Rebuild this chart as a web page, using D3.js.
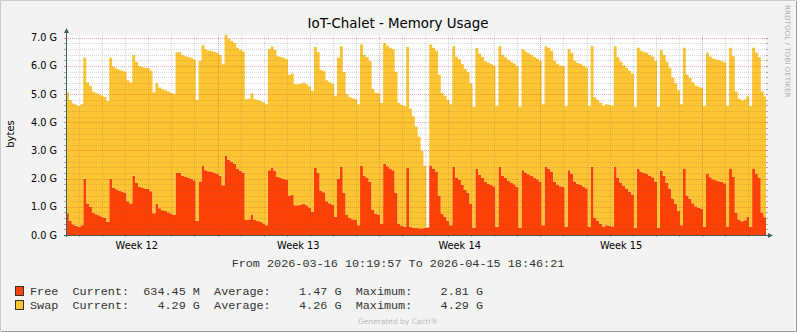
<!DOCTYPE html>
<html>
<head>
<meta charset="utf-8">
<script src="https://cdn.jsdelivr.net/npm/d3@7"></script>
<style>
html, body { margin: 0; padding: 0; background: #f3f3f3; }
svg { display: block; }
</style>
</head>
<body>
<div id="chart"></div>
<script>
var width = 797, height = 332;
var plot = {left: 66, right: 766, top: 35, bottom: 235};

var title = "IoT-Chalet - Memory Usage";
var yLabel = "bytes";
var startTime = new Date("2026-03-16T10:19:57Z");
var endTime = new Date("2026-04-15T18:46:21Z");
var stepHours = 3;

// free memory, G (one value every 3 hours)
var free = [
  0.77, 0.50, 0.38, 0.33, 0.29, 0.35, 2.00, 1.12, 1.00, 0.80,
  0.74, 0.70, 0.66, 0.61, 0.47, 2.00, 1.68, 1.62, 1.58, 1.54,
  1.51, 1.20, 1.12, 2.10, 1.85, 1.70, 1.67, 1.65, 1.63, 1.55,
  0.77, 1.10, 0.95, 0.88, 0.85, 0.81, 0.76, 0.72, 2.20, 2.20,
  2.10, 2.06, 2.03, 2.00, 1.94, 0.50, 1.90, 2.45, 2.30, 2.26,
  2.24, 2.21, 2.18, 2.10, 1.77, 2.81, 2.67, 2.60, 2.53, 2.36,
  2.28, 2.22, 0.53, 0.55, 0.73, 0.53, 0.50, 0.47, 0.42, 0.35,
  2.30, 2.40, 2.28, 2.06, 2.03, 2.00, 1.95, 1.40, 1.44, 1.06,
  1.06, 1.08, 1.12, 1.06, 0.98, 0.82, 2.38, 2.20, 1.57, 1.52,
  1.20, 1.13, 1.08, 0.65, 2.00, 2.41, 1.50, 0.71, 0.60, 0.56,
  0.53, 0.35, 2.47, 2.10, 2.02, 1.88, 0.90, 0.76, 0.73, 0.40,
  2.53, 2.44, 2.36, 2.30, 1.50, 0.40, 0.33, 0.29, 2.38, 0.29,
  0.26, 0.25, 0.24, 0.24, 0.26, 0.27, 2.47, 2.36, 2.25, 1.40,
  0.75, 0.65, 0.50, 0.35, 2.41, 2.04, 1.95, 1.78, 1.60, 1.50,
  1.10, 0.26, 2.35, 2.14, 2.03, 1.88, 1.83, 1.78, 1.73, 0.29,
  2.41, 2.10, 2.02, 1.93, 1.86, 1.80, 1.70, 0.26, 2.30, 2.22,
  2.16, 2.10, 2.03, 1.98, 1.90, 0.35, 2.41, 2.35, 2.24, 1.90,
  1.79, 1.73, 1.71, 0.29, 2.30, 2.17, 1.90, 1.82, 1.78, 1.72,
  1.66, 0.29, 2.41, 0.60, 0.50, 0.40, 0.30, 0.35, 0.33, 0.30,
  2.41, 2.02, 1.86, 1.74, 1.65, 1.54, 1.44, 0.26, 2.36, 2.25,
  2.20, 2.18, 2.10, 2.05, 1.90, 0.26, 2.28, 2.10, 1.85, 1.65,
  1.30, 1.10, 0.85, 0.35, 2.36, 1.40, 1.28, 1.13, 1.02, 0.97,
  0.94, 0.29, 2.18, 2.05, 1.98, 1.94, 1.91, 1.88, 1.84, 0.30,
  2.36, 2.06, 0.80, 0.55, 0.49, 0.52, 0.64, 0.29, 2.36, 2.18,
  2.02, 0.80, 0.63
];

// swap, G (stacked on free)
var swap = [
  4.29, 4.29, 4.29, 4.29, 4.29, 4.29, 4.29, 4.29, 4.29, 4.29,
  4.29, 4.29, 4.29, 4.29, 4.29, 4.29, 4.29, 4.29, 4.29, 4.29,
  4.29, 4.29, 4.29, 4.29, 4.29, 4.29, 4.29, 4.29, 4.29, 4.29,
  4.29, 4.29, 4.29, 4.29, 4.29, 4.29, 4.29, 4.29, 4.29, 4.29,
  4.29, 4.29, 4.29, 4.29, 4.29, 4.29, 4.29, 4.29, 4.29, 4.29,
  4.29, 4.29, 4.29, 4.29, 4.29, 4.29, 4.29, 4.29, 4.29, 4.29,
  4.29, 4.29, 4.29, 4.29, 4.29, 4.29, 4.29, 4.29, 4.29, 4.29,
  4.29, 4.29, 4.29, 4.29, 4.29, 4.29, 4.29, 4.29, 4.29, 4.29,
  4.29, 4.29, 4.29, 4.29, 4.29, 4.29, 4.29, 4.29, 4.29, 4.29,
  4.29, 4.29, 4.29, 4.29, 4.29, 4.29, 4.29, 4.29, 4.29, 4.29,
  4.29, 4.29, 4.29, 4.29, 4.29, 4.29, 4.29, 4.29, 4.29, 4.29,
  4.29, 4.29, 4.29, 4.29, 4.29, 4.29, 4.29, 4.29, 4.29, 4.19,
  3.95, 3.60, 3.25, 2.75, 2.20, 0.00, 4.29, 4.29, 4.29, 4.29,
  4.29, 4.29, 4.29, 4.29, 4.29, 4.29, 4.29, 4.29, 4.29, 4.29,
  4.29, 4.29, 4.29, 4.29, 4.29, 4.29, 4.29, 4.29, 4.29, 4.29,
  4.29, 4.29, 4.29, 4.29, 4.29, 4.29, 4.29, 4.29, 4.29, 4.29,
  4.29, 4.29, 4.29, 4.29, 4.29, 4.29, 4.29, 4.29, 4.29, 4.29,
  4.29, 4.29, 4.29, 4.29, 4.29, 4.29, 4.29, 4.29, 4.29, 4.29,
  4.29, 4.29, 4.29, 4.29, 4.29, 4.29, 4.29, 4.29, 4.29, 4.29,
  4.29, 4.29, 4.29, 4.29, 4.29, 4.29, 4.29, 4.29, 4.29, 4.29,
  4.29, 4.29, 4.29, 4.29, 4.29, 4.29, 4.29, 4.29, 4.29, 4.29,
  4.29, 4.29, 4.29, 4.29, 4.29, 4.29, 4.29, 4.29, 4.29, 4.29,
  4.29, 4.29, 4.29, 4.29, 4.29, 4.29, 4.29, 4.29, 4.29, 4.29,
  4.29, 4.29, 4.29, 4.29, 4.29, 4.29, 4.29, 4.29, 4.29, 4.29,
  4.29, 4.29, 4.29
];

var yTicks = [0, 1, 2, 3, 4, 5, 6, 7];
var seriesNames = ["Free", "Swap"];
var seriesKeys = ["free", "swap"];
var currentVals = ["634.45 M", "4.29 G"];
var averageVals = ["1.47 G", "4.26 G"];
var maximumVals = ["2.81 G", "4.29 G"];

var colors = {free: "#FF4105", swap: "#FFC432"};

var svg = d3.select("#chart").append("svg")
    .attr("width", width).attr("height", height);

// background + 3d frame
svg.append("rect").attr("width", width).attr("height", height).attr("fill", "#f3f3f3");
svg.append("path").attr("d", "M0.5," + (height-1) + "V0.5H" + (width-1))
    .attr("fill", "none").attr("stroke", "#cbcbcb").attr("stroke-width", 1);
svg.append("path").attr("d", "M1," + (height-0.5) + "H" + (width-0.5) + "V1")
    .attr("fill", "none").attr("stroke", "#999999").attr("stroke-width", 1);

var x = d3.scaleUtc().domain([startTime, endTime]).range([plot.left, plot.right]);
var y = d3.scaleLinear().domain([0, 7.1]).range([plot.bottom, plot.top]);

svg.append("rect")
    .attr("x", plot.left).attr("y", plot.top)
    .attr("width", plot.right - plot.left).attr("height", plot.bottom - plot.top)
    .attr("fill", "#ffffff");

// data
var rows = free.map(function(d, i) {
  return {t: d3.utcHour.offset(startTime, i * stepHours), free: free[i], swap: swap[i]};
});
rows.push({t: endTime, free: free[free.length-1], swap: swap[swap.length-1]});

var layers = d3.stack().keys(seriesKeys)(rows);

var area = d3.area()
    .curve(d3.curveStepAfter)
    .x(function(d) { return x(d.data.t); })
    .y0(function(d) { return y(d[0]); })
    .y1(function(d) { return y(d[1]); });

svg.append("g").selectAll("path").data(layers).enter().append("path")
    .attr("d", area)
    .attr("fill", function(d) { return colors[d.key]; });

// grid, drawn over the areas like rrdtool
var grid = svg.append("g").attr("shape-rendering", "crispEdges");
var minorY = d3.range(1, 36).filter(function(k) { return k % 5 != 0; }).map(function(k) { return k * 0.2; });
var days = d3.utcDay.range(startTime, endTime);
var mondays = d3.utcMonday.range(startTime, endTime);
var isMonday = function(d) { return d.getUTCDay() == 1; };
var minorColor = "rgba(90,90,90,0.22)";
var majorColor = "rgba(220,60,60,0.4)";

grid.selectAll("line.minory").data(minorY).enter().append("line")
    .attr("x1", plot.left).attr("x2", plot.right)
    .attr("y1", function(d) { return Math.round(y(d)) + 0.5; })
    .attr("y2", function(d) { return Math.round(y(d)) + 0.5; })
    .attr("stroke", minorColor).attr("stroke-dasharray", "1,1");

grid.selectAll("line.minorx").data(days.filter(function(d) { return !isMonday(d); })).enter().append("line")
    .attr("x1", function(d) { return Math.round(x(d)) + 0.5; })
    .attr("x2", function(d) { return Math.round(x(d)) + 0.5; })
    .attr("y1", plot.top).attr("y2", plot.bottom)
    .attr("stroke", minorColor).attr("stroke-dasharray", "1,1");

grid.selectAll("line.majory").data(yTicks.slice(1)).enter().append("line")
    .attr("x1", plot.left).attr("x2", plot.right)
    .attr("y1", function(d) { return Math.round(y(d)) + 0.5; })
    .attr("y2", function(d) { return Math.round(y(d)) + 0.5; })
    .attr("stroke", majorColor).attr("stroke-dasharray", "1,1");

grid.selectAll("line.majorx").data(mondays).enter().append("line")
    .attr("x1", function(d) { return Math.round(x(d)) + 0.5; })
    .attr("x2", function(d) { return Math.round(x(d)) + 0.5; })
    .attr("y1", plot.top).attr("y2", plot.bottom)
    .attr("stroke", majorColor).attr("stroke-dasharray", "1,1");

// ticks
var ticks = svg.append("g").attr("shape-rendering", "crispEdges");
minorY.forEach(function(v) {
  var yy = Math.round(y(v)) + 0.5;
  ticks.append("line").attr("x1", plot.left - 2).attr("x2", plot.left).attr("y1", yy).attr("y2", yy).attr("stroke", "#aaaaaa");
  ticks.append("line").attr("x1", plot.right).attr("x2", plot.right + 2).attr("y1", yy).attr("y2", yy).attr("stroke", "#aaaaaa");
});
yTicks.forEach(function(v) {
  var yy = Math.round(y(v)) + 0.5;
  ticks.append("line").attr("x1", plot.left - 2).attr("x2", plot.left).attr("y1", yy).attr("y2", yy).attr("stroke", "#e08080");
  ticks.append("line").attr("x1", plot.right).attr("x2", plot.right + 2).attr("y1", yy).attr("y2", yy).attr("stroke", "#e08080");
});
days.forEach(function(d) {
  var xx = Math.round(x(d)) + 0.5;
  ticks.append("line").attr("x1", xx).attr("x2", xx).attr("y1", plot.bottom).attr("y2", plot.bottom + 2)
      .attr("stroke", isMonday(d) ? "#e08080" : "#aaaaaa");
});

// axes with arrows
var axisColor = "#3f5f58";
svg.append("line").attr("x1", plot.left + 0.5).attr("x2", plot.left + 0.5)
    .attr("y1", plot.bottom + 2).attr("y2", 31).attr("stroke", axisColor);
svg.append("path").attr("d", "M" + (plot.left - 2) + ",33L" + (plot.left + 3) + ",33L" + (plot.left + 0.5) + ",28Z")
    .attr("fill", axisColor);
svg.append("line").attr("x1", plot.left - 2).attr("x2", plot.right + 4)
    .attr("y1", plot.bottom + 0.5).attr("y2", plot.bottom + 0.5).attr("stroke", axisColor);
svg.append("path").attr("d", "M" + (plot.right + 2) + "," + (plot.bottom - 2) + "L" + (plot.right + 2) + "," + (plot.bottom + 3) + "L" + (plot.right + 7) + "," + (plot.bottom + 0.5) + "Z")
    .attr("fill", axisColor);

// y labels
svg.append("g").selectAll("text").data(yTicks).enter().append("text")
    .attr("x", 57).attr("y", function(d) { return y(d) + 3.5; })
    .attr("text-anchor", "end")
    .attr("font-family", "DejaVu Sans").attr("font-size", "9.7px").attr("fill", "#000")
    .text(function(d) { return d.toFixed(1) + " G"; });

// week labels, centred in the week
var weekStarts = d3.utcMonday.range(d3.utcMonday.floor(startTime), endTime);
var weekLabels = weekStarts.map(function(d) { return new Date(d.getTime() + 3.5 * 86400000); })
    .filter(function(d) { return d >= startTime && d <= endTime; });
svg.append("g").selectAll("text").data(weekLabels).enter().append("text")
    .attr("x", function(d) { return x(d); }).attr("y", 249)
    .attr("text-anchor", "middle")
    .attr("font-family", "DejaVu Sans").attr("font-size", "9.8px").attr("fill", "#000")
    .text(d3.utcFormat("Week %V"));

// y axis title
svg.append("text")
    .attr("transform", "translate(14,134) rotate(-90)")
    .attr("text-anchor", "middle")
    .attr("font-family", "DejaVu Sans").attr("font-size", "10px").attr("fill", "#000")
    .text(yLabel);

// title
svg.append("text")
    .attr("x", 398).attr("y", 28)
    .attr("text-anchor", "middle")
    .attr("font-family", "DejaVu Sans").attr("font-size", "13.4px").attr("fill", "#000")
    .text(title);

// watermark on the right
svg.append("text")
    .attr("transform", "translate(785,5) rotate(90)")
    .attr("font-family", "DejaVu Sans").attr("font-size", "7.2px").attr("fill", "#b0b0b0")
    .text("RRDTOOL / TOBI OETIKER");

// period line
var fmt = d3.utcFormat("%Y-%m-%d %H:%M:%S");
svg.append("text")
    .attr("x", 398).attr("y", 267)
    .attr("text-anchor", "middle")
    .attr("font-family", "Liberation Mono").attr("font-size", "11.8px").attr("fill", "#333")
    .style("white-space", "pre")
    .text("From " + fmt(startTime) + " To " + fmt(endTime));

// legend
function padLeft(s, n) { while (s.length < n) s = " " + s; return s; }
function padRight(s, n) { while (s.length < n) s = s + " "; return s; }

seriesNames.forEach(function(name, i) {
  var yy = 295 + i * 14;
  svg.append("rect")
      .attr("x", 15.5).attr("y", yy - 8.5).attr("width", 8).attr("height", 9)
      .attr("fill", colors[seriesKeys[i]]).attr("stroke", "#333").attr("stroke-width", 1);
  var line = padRight(name, 6) + "Current:" + padLeft(currentVals[i], 10) +
      "  Average:" + padLeft(averageVals[i], 10) +
      "  Maximum:" + padLeft(maximumVals[i], 10);
  svg.append("text")
      .attr("x", 30).attr("y", yy)
      .attr("font-family", "Liberation Mono").attr("font-size", "11.8px").attr("fill", "#333")
      .style("white-space", "pre")
      .text(line);
});

svg.append("text")
    .attr("x", 398).attr("y", 324)
    .attr("text-anchor", "middle")
    .attr("font-family", "DejaVu Sans").attr("font-size", "7.5px").attr("fill", "#bbbbbb")
    .text("Generated by Cacti\u00ae");
</script>
</body>
</html>
